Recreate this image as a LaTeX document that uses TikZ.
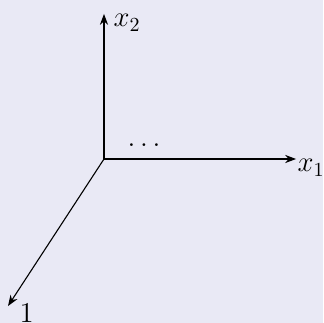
\documentclass[tikz,border=0pt]{standalone}
\usetikzlibrary{arrows.meta}
\definecolor{bgcolor}{RGB}{233,233,245}
\tikzset{axislabel/.style={font=\fontsize{14.5}{17}\selectfont, inner sep=0pt}}
\begin{document}
\begin{tikzpicture}[>=Stealth, line width=0.55pt]
    % 背景与边界
    \fill[bgcolor] (-1.832,-2.889) rectangle (3.858,2.801);
    \useasboundingbox (-1.832,-2.889) rectangle (3.858,2.801);
    % 坐标原点与轴端点
    \coordinate (O) at (0,0);
    \coordinate (X1) at (3.383,0);
    \coordinate (X2) at (0,2.555);
    \coordinate (X3) at (-1.691,-2.590);
    % 绘制坐标轴
    \draw[->] (O) -- (X1) node[axislabel, anchor=north west, xshift=0.5pt] (lx1) {$x_1$};
    \draw[->] (O) -- (X2) node[axislabel, anchor=north west, xshift=4.5pt] (lx2) {$x_2$};
    \draw[->] (O) -- (X3) node[axislabel, anchor=north west, xshift=5.5pt, yshift=1.5pt] (lx3) {$1$};
    % 省略号
    \node[axislabel] (dots) at (0.706,0.247) {$\dots$};
\end{tikzpicture}
\end{document}
